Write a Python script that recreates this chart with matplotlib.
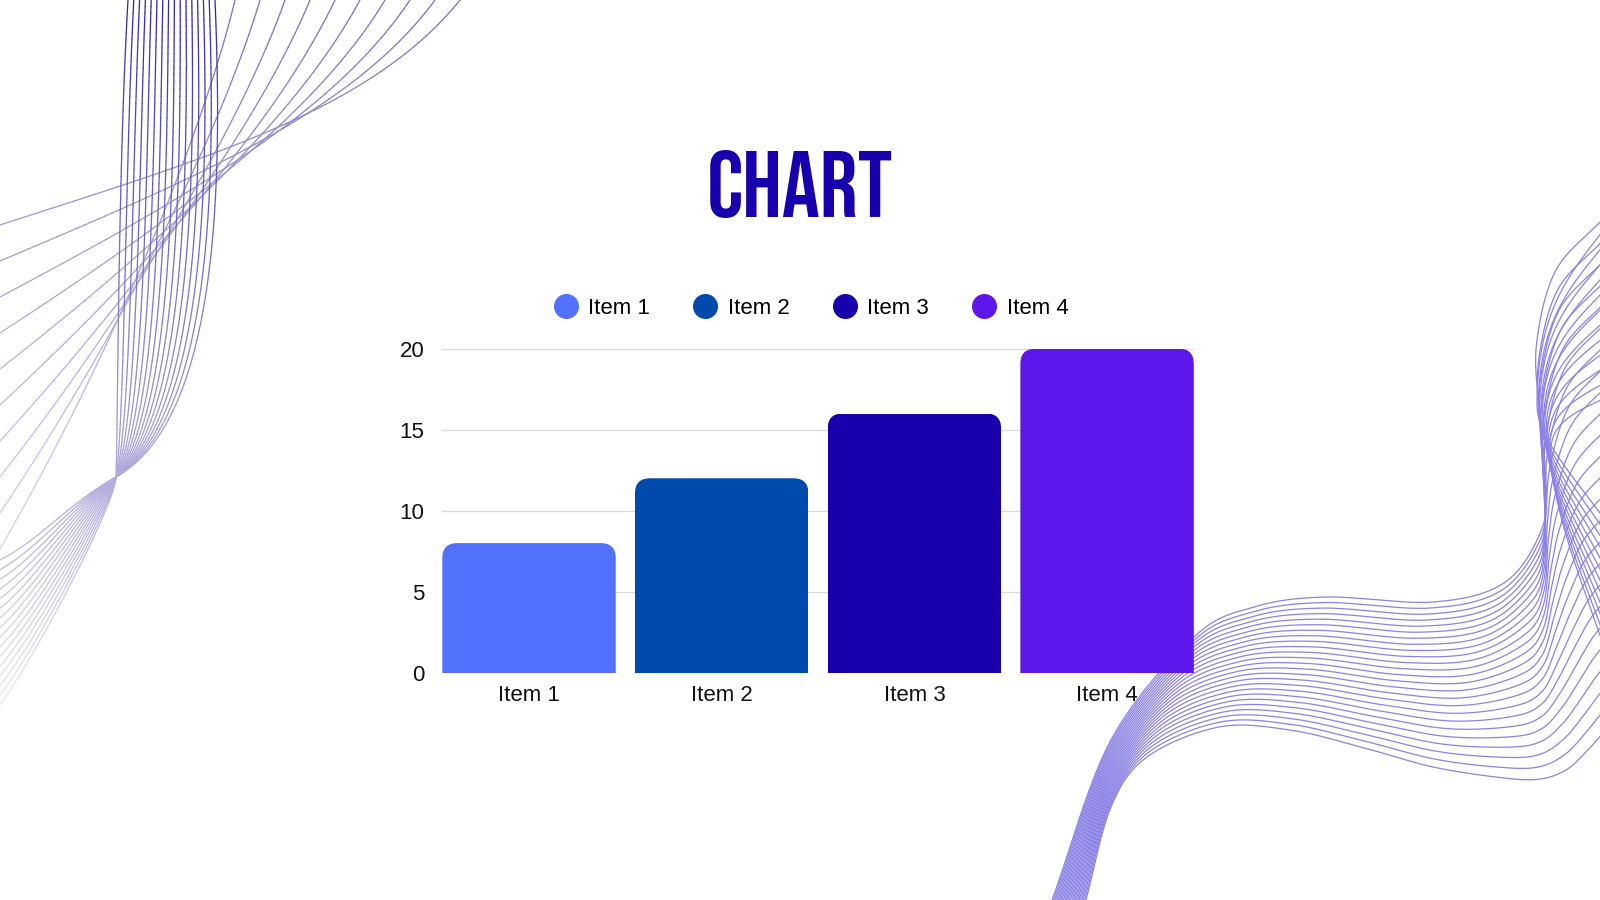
import numpy as np
import matplotlib
matplotlib.use('Agg')
import matplotlib.pyplot as plt
from matplotlib import font_manager as fm
from matplotlib.collections import LineCollection
from matplotlib.patches import FancyBboxPatch
from matplotlib.transforms import IdentityTransform
from matplotlib.lines import Line2D

# ---------------- data ----------------
categories = ['Item 1', 'Item 2', 'Item 3', 'Item 4']
values = [8, 12, 16, 20]
bar_colors = ['#5271ff', '#004aad', '#1800ad', '#5e17eb']
y_ticks = [0, 5, 10, 15, 20]
title = 'CHART'

W, H = 1600, 900
TEXT_FAMILY = ['Liberation Sans', 'DejaVu Sans']


def pick_title_font():
    prefs = ['Bebas Neue', 'Oswald', 'Anton', 'League Gothic', 'Roboto Condensed',
             'Open Sans Condensed', 'Liberation Sans Narrow', 'Arial Narrow']
    fl = fm.fontManager.ttflist

    def wt(f):
        w = f.weight
        if isinstance(w, str):
            w = {'bold': 700, 'normal': 400, 'black': 900, 'heavy': 800}.get(w, 400)
        return w
    for name in prefs:
        c = [f for f in fl if f.name == name]
        if c:
            c.sort(key=lambda f: (f.style != 'normal', -wt(f)))
            return fm.FontProperties(fname=c[0].fname)
    c = [f for f in fl if 'Condensed' in f.fname and 'Bold' in f.fname
         and 'Oblique' not in f.fname and 'Italic' not in f.fname]
    if c:
        return fm.FontProperties(fname=c[0].fname)
    return fm.FontProperties(family='Liberation Sans', weight='bold')


fig = plt.figure(figsize=(16, 9), dpi=100)
fig.patch.set_facecolor('white')

# ---------------- decorative wave lines (pixel coordinates) ----------------
bg = fig.add_axes([0, 0, 1, 1], zorder=0)
bg.set_xlim(0, W)
bg.set_ylim(H, 0)
bg.axis('off')


def bez(p0, p1, p2, p3, n=80):
    p0, p1, p2, p3 = map(lambda p: np.asarray(p, float), (p0, p1, p2, p3))
    t = np.linspace(0, 1, n)[:, None]
    return ((1 - t) ** 3) * p0 + 3 * ((1 - t) ** 2) * t * p1 + 3 * (1 - t) * t ** 2 * p2 + t ** 3 * p3


def catmull(pts, n=24):
    pts = np.asarray(pts, float)
    ext = np.vstack([2 * pts[0] - pts[1], pts, 2 * pts[-1] - pts[-2]])
    out = []
    for i in range(1, len(ext) - 2):
        p0, p1, p2, p3 = ext[i - 1], ext[i], ext[i + 1], ext[i + 2]
        t = np.linspace(0, 1, n, endpoint=False)[:, None]
        out.append(0.5 * ((2 * p1) + (-p0 + p2) * t + (2 * p0 - 5 * p1 + 4 * p2 - p3) * t ** 2
                          + (-p0 + 3 * p1 - 3 * p2 + p3) * t ** 3))
    out.append(pts[-1:])
    return np.vstack(out)


LEFT_BASE = np.array([40, 28, 160]) / 255.0


def fade_line(xy, a0, lw=0.9, ymax=780.0):
    segs = np.stack([xy[:-1], xy[1:]], axis=1)
    ymid = 0.5 * (xy[:-1, 1] + xy[1:, 1])
    alpha = a0 * np.clip(1 - ymid / ymax, 0.02, 1)
    cols = 1 - alpha[:, None] * (1 - LEFT_BASE[None, :])
    bg.add_collection(LineCollection(segs, colors=cols, linewidths=lw, capstyle='round'))


def lerp(a, b, u):
    return (1 - u) * np.asarray(a, float) + u * np.asarray(b, float)


# left group - diagonal lines
for i in range(10):
    u = i / 9
    p0 = (0, 225 + 36 * i)
    p3 = (460 - 25 * i, 0)
    p1 = lerp((200, 160), (120, 340), u)
    p2 = lerp((370, 112), (205, 125), u)
    fade_line(bez(p0, p1, p2, p3), 0.62)

# left group - bowed lens lines through the pinch
P = np.array([116.0, 477.0])
NV = 16
for j in range(NV):
    v = 1 - j / (NV - 1)          # 1 = right-most line at the top
    xt = lerp(128, 215, v)[()]
    yl = 560 + 145 * (1 - v)
    cx = lerp(118, 222, v)[()]
    q0 = (xt, 0)
    q1 = (cx, 170)
    q2 = (cx, 418)
    up = bez(q0, q1, q2, P)
    d = P - np.asarray(q2)
    r1 = P + 0.45 * d
    S = np.array([0.0, yl])
    r2 = (0.35 * P[0], yl - 0.25 * (yl - P[1]))
    low = bez(P, r1, r2, S)
    fade_line(np.vstack([up, low[1:]]), 0.95)

# right group - band of lines
RIGHT_COL = '#8c82e6'
A = [(1052, 900), (1111, 740), (1194, 637), (1254, 607), (1326, 597), (1433, 602),
     (1504, 583), (1541, 531), (1546, 480), (1538, 400), (1537, 340), (1556, 270),
     (1602, 220)]
B = [(1086, 900), (1111, 807), (1147, 757), (1219, 727), (1290, 730), (1361, 747),
     (1433, 767), (1504, 778), (1540, 779), (1566, 770), (1586, 752), (1604, 732),
     (1622, 712)]
A = np.array(A, float)
B = np.array(B, float)
NB = 25
for k in range(NB):
    u = k / (NB - 1)
    pts = (1 - u) * A + u * B
    xy = catmull(pts)
    bg.plot(xy[:, 0], xy[:, 1], color=RIGHT_COL, lw=0.9)

# right group - crossing arcs near the right edge
for i in range(12):
    u = i / 11
    yu = 228 + 170 * u
    V = np.array([1537 + 14 * u, 405 + 45 * u])
    yl = 520 + 130 * u
    upper = bez(V, V + (0, -0.55 * (V[1] - yu)),
                (1600 - 0.45 * (1600 - V[0]), yu + 0.25 * (V[1] - yu)), (1605, yu))
    lower = bez(V, V + (0, 0.3 * (yl - V[1])),
                (1600 - 0.3 * (1600 - V[0]), yl - 0.3 * (yl - V[1])), (1605, yl))
    xy = np.vstack([upper[::-1], lower[1:]])
    bg.plot(xy[:, 0], xy[:, 1], color=RIGHT_COL, lw=0.9)

# ---------------- bar chart ----------------
ax_left, ax_right = 442.3, 1193.8
ax_bottom, ax_top = 672.7, 348.7
ax = fig.add_axes([ax_left / W, 1 - ax_bottom / H, (ax_right - ax_left) / W,
                   (ax_bottom - ax_top) / H], zorder=2)
ax.set_facecolor('none')
x = np.arange(len(categories))
ax.set_xlim(-0.45, len(categories) - 0.55)
ax.set_ylim(0, 20)
bars = ax.bar(x, values, width=0.9, color=bar_colors, zorder=3)

ax.set_yticks(y_ticks)
ax.set_xticks(x)
ax.set_xticklabels(categories)
ax.yaxis.grid(True, color='#dadada', lw=0.9)
ax.set_axisbelow(True)
for s in ax.spines.values():
    s.set_visible(False)
ax.tick_params(axis='both', length=0, labelsize=16, labelcolor='#111111')
ax.tick_params(axis='y', pad=13)
ax.tick_params(axis='x', pad=8.5)
for lab in ax.get_xticklabels() + ax.get_yticklabels():
    lab.set_family(TEXT_FAMILY)

# rounded top corners on each bar (clip in pixel space)
r = 15
for rect in bars:
    (x0, y0), (x1, y1) = ax.transData.transform(
        [(rect.get_x(), 0), (rect.get_x() + rect.get_width(), rect.get_height())])
    fb = FancyBboxPatch((x0, y0 - 2 * r), x1 - x0, (y1 - y0) + 2 * r,
                        boxstyle=f'round,pad=0,rounding_size={r}')
    rect.set_clip_path(fb.get_path(), IdentityTransform())

# legend
handles = [Line2D([], [], ls='none', marker='o', ms=17, mfc=c, mec=c) for c in bar_colors]
fig.legend(handles, categories, loc='center', bbox_to_anchor=(811 / W, 1 - 308 / H),
           ncol=4, frameon=False, handlelength=1.1, handletextpad=0.45, columnspacing=1.95,
           borderpad=0, borderaxespad=0,
           prop=fm.FontProperties(family=TEXT_FAMILY, size=16))

# title
fig.text(800 / W, 1 - 217 / H, title, ha='center', va='baseline', color='#1800ad',
         fontproperties=pick_title_font(), fontsize=68)

fig.savefig('out.png', dpi=100, facecolor='white')
